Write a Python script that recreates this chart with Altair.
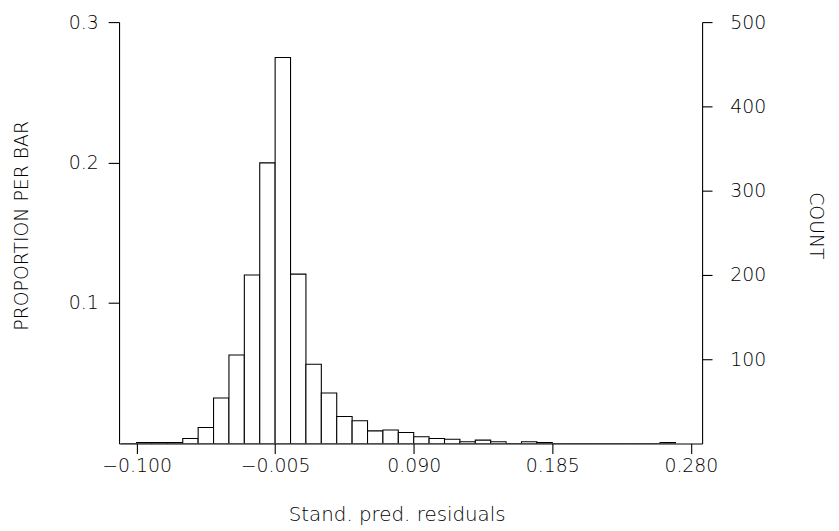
import altair as alt
import pandas as pd

# bin width: 9 bins per tick interval of 0.095
bin_width = 0.095 / 9
first_edge = -0.100 - bin_width
counts = [0, 1, 1, 1, 6, 19, 54, 105, 200, 333, 458, 201, 94, 60, 32, 27,
          15, 16, 13, 8, 6, 5, 2, 4, 2, 0, 2, 1, 0, 0, 0, 0, 0, 0, 0, 1]
x_ticks = [-0.100, -0.005, 0.090, 0.185, 0.280]
prop_ticks = [0.1, 0.2, 0.3]
count_ticks = [100, 200, 300, 400, 500]

N = sum(counts)
rows = []
for k, c in enumerate(counts):
    lo = first_edge + k * bin_width
    rows.append({"lo": lo, "hi": lo + bin_width, "count": c, "prop": c / N})
df = pd.DataFrame(rows)

FONT = "DejaVu Sans"
xdom = [-0.1120, 0.2877]

base = alt.Chart(df)

bars = base.mark_bar(fill="white", stroke="black", strokeWidth=1.1, clip=True).encode(
    x=alt.X("lo:Q", scale=alt.Scale(domain=xdom, nice=False, zero=False),
            axis=alt.Axis(values=x_ticks, format=".3f", title="Stand. pred. residuals",
                          grid=False, tickSize=10, labelPadding=3, titleX=280, titleY=62,
                          titleBaseline="top", titleFontSize=20)),
    x2="hi:Q",
    y=alt.Y("prop:Q", scale=alt.Scale(domain=[0, 0.3], nice=False),
            axis=alt.Axis(values=prop_ticks, format=".1f", title="PROPORTION PER BAR",
                          grid=False, tickSize=11, labelPadding=10, orient="left",
                          titleX=-98, titleY=205, titleAngle=-90, titleBaseline="middle")),
    y2=alt.datum(0),
)

counts_layer = base.mark_bar(opacity=0).encode(
    x=alt.X("lo:Q", scale=alt.Scale(domain=xdom, nice=False, zero=False)),
    x2="hi:Q",
    y=alt.Y("count:Q", scale=alt.Scale(domain=[0, 0.3 * N], nice=False),
            axis=alt.Axis(values=count_ticks, format="d", title="COUNT", grid=False,
                          tickSize=10, labelPadding=18, orient="right",
                          titleX=114, titleY=205, titleAngle=90, titleBaseline="middle")),
    y2=alt.datum(0),
)

chart = alt.layer(bars, counts_layer).resolve_scale(y="independent").properties(
    width=588, height=425,
    autosize=alt.AutoSizeParams(type="none"),
    padding={"left": 112, "top": 12, "right": 130, "bottom": 84},
).configure_view(stroke=None).configure_axis(
    domainColor="black", tickColor="black", labelColor="black", titleColor="black",
    labelFont=FONT, titleFont=FONT, labelFontSize=19, titleFontSize=19,
    labelFontWeight=300, titleFontWeight=300, domainWidth=1.1, tickWidth=1.1,
)

chart.save("out.html", embed_options={"renderer": "svg", "actions": False})
